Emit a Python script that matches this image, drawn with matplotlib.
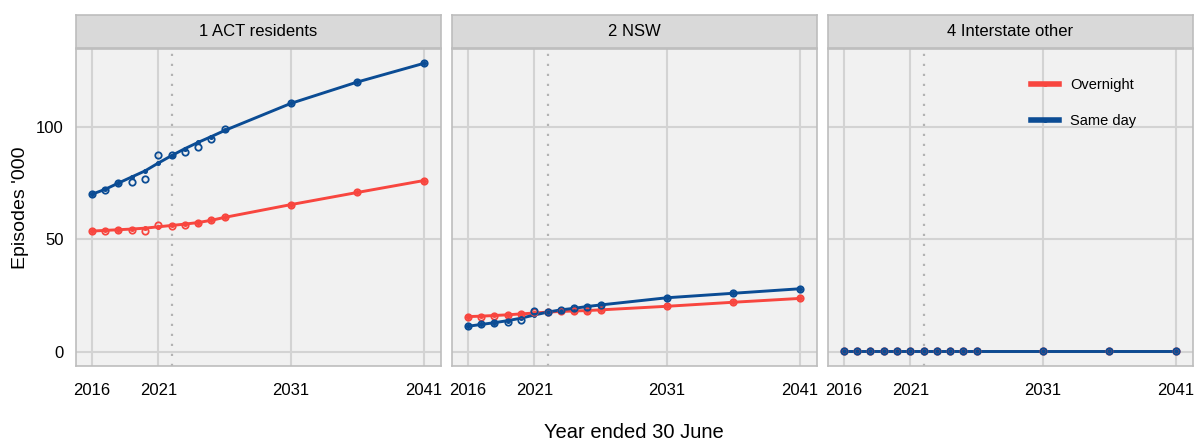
import numpy as np
import matplotlib
matplotlib.use("Agg")
import matplotlib.pyplot as plt

plt.rcParams['font.family'] = ['Liberation Sans', 'DejaVu Sans']

years = [2016, 2017, 2018, 2019, 2020, 2021, 2022, 2023, 2024, 2025, 2026, 2031, 2036, 2041]
panels = ["1 ACT residents", "2 NSW", "4 Interstate other"]

# observed / projected points (open circles)
act_overnight_pts = [53.7, 53.6, 54.3, 54.4, 53.6, 56.2, 56.0, 56.5, 57.3, 58.5, 60.0, 65.5, 70.9, 76.2]
act_sameday_pts = [70.1, 71.9, 75.3, 75.6, 77.1, 87.5, 87.5, 88.7, 91.2, 94.5, 99.0, 110.6, 120.1, 128.4]
nsw_overnight_pts = [15.6, 15.6, 15.8, 16.4, 16.6, 17.6, 17.6, 17.9, 18.1, 18.3, 18.6, 20.2, 22.0, 23.7]
nsw_sameday_pts = [11.3, 12.1, 12.9, 13.2, 14.1, 17.9, 17.6, 18.6, 19.3, 20.1, 20.8, 24.0, 26.0, 28.0]
int_overnight_pts = [0.3, 0.3, 0.3, 0.3, 0.3, 0.3, 0.3, 0.3, 0.3, 0.3, 0.3, 0.3, 0.3, 0.3]
int_sameday_pts = [0.2, 0.2, 0.2, 0.2, 0.2, 0.2, 0.2, 0.2, 0.2, 0.2, 0.2, 0.2, 0.2, 0.2]

# smoothed trend values (line with small dots)
act_overnight_fit = [53.7, 54.0, 54.3, 54.6, 55.0, 55.6, 56.2, 56.8, 57.5, 58.5, 59.8, 65.5, 70.9, 76.2]
act_sameday_fit = [70.1, 72.3, 75.1, 77.8, 80.5, 84.0, 87.3, 90.4, 93.2, 95.8, 98.5, 110.6, 120.1, 128.4]
nsw_overnight_fit = [15.6, 15.8, 16.1, 16.4, 16.8, 17.2, 17.6, 17.9, 18.1, 18.3, 18.6, 20.2, 22.0, 23.7]
nsw_sameday_fit = [11.3, 12.1, 12.9, 13.8, 14.9, 16.3, 17.6, 18.6, 19.3, 20.1, 20.8, 24.0, 26.0, 28.0]
int_overnight_fit = int_overnight_pts
int_sameday_fit = int_sameday_pts

pts = [(act_overnight_pts, act_sameday_pts), (nsw_overnight_pts, nsw_sameday_pts), (int_overnight_pts, int_sameday_pts)]
fits = [(act_overnight_fit, act_sameday_fit), (nsw_overnight_fit, nsw_sameday_fit), (int_overnight_fit, int_sameday_fit)]

red = "#f8463f"
blue = "#0b4c94"
grid_c = "#d3d3d3"

fig = plt.figure(figsize=(11.96, 4.41), dpi=100)

lefts = [76, 452, 828]
W, H = 1196, 441
for i, name in enumerate(panels):
    ax = fig.add_axes([lefts[i] / W, 1 - 366 / H, 365 / W, 317 / H])
    ax.set_facecolor("#f1f1f1")
    ax.set_axisbelow(True)
    ax.grid(True, color=grid_c, lw=1.5)
    for s in ax.spines.values():
        s.set_color("#bdbdbd")
        s.set_linewidth(1.2)
    ax.axvline(2022, color="#b3b3b3", lw=1.6, ls=(0, (1, 3.5)), zorder=1)

    for series, fit, col, lab in [(pts[i][0], fits[i][0], red, "Overnight"), (pts[i][1], fits[i][1], blue, "Same day")]:
        ax.plot(years, fit, color=col, lw=2.1, marker="o", ms=2.6, label=lab, zorder=3)
        ax.plot(years, series, ls="none", marker="o", ms=4.6, mfc="none", mec=col, mew=1.3, zorder=4)

    ax.set_xlim(2014.8, 2042.3)
    ax.set_ylim(-6.4, 134.8)
    ax.set_xticks([2016, 2021, 2031, 2041])
    ax.set_yticks([0, 50, 100])
    ax.tick_params(length=0, labelsize=12, colors="black", pad=12)
    ax.tick_params(axis="y", pad=9)
    if i > 0:
        ax.set_yticklabels([])
    else:
        ax.set_ylabel("Episodes '000", fontsize=14, labelpad=5)

    sx = fig.add_axes([lefts[i] / W, 1 - 48 / H, 365 / W, 33 / H])
    sx.set_facecolor("#d9d9d9")
    sx.set_xticks([])
    sx.set_yticks([])
    for s in sx.spines.values():
        s.set_color("#bdbdbd")
        s.set_linewidth(1.2)
    sx.text(0.5, 0.5, name, ha="center", va="center", fontsize=12, transform=sx.transAxes)

    if i == 2:
        leg = ax.legend(loc="upper left", bbox_to_anchor=(0.52, 0.95), frameon=False,
                        fontsize=10.5, labelspacing=1.5, handlelength=1.9, handletextpad=0.8)
        for h in leg.get_lines():
            h.set_linewidth(4)

fig.text(634 / W, 1 - 432 / H, "Year ended 30 June", ha="center", va="center", fontsize=14.5)

plt.savefig("out.png", dpi=100)
